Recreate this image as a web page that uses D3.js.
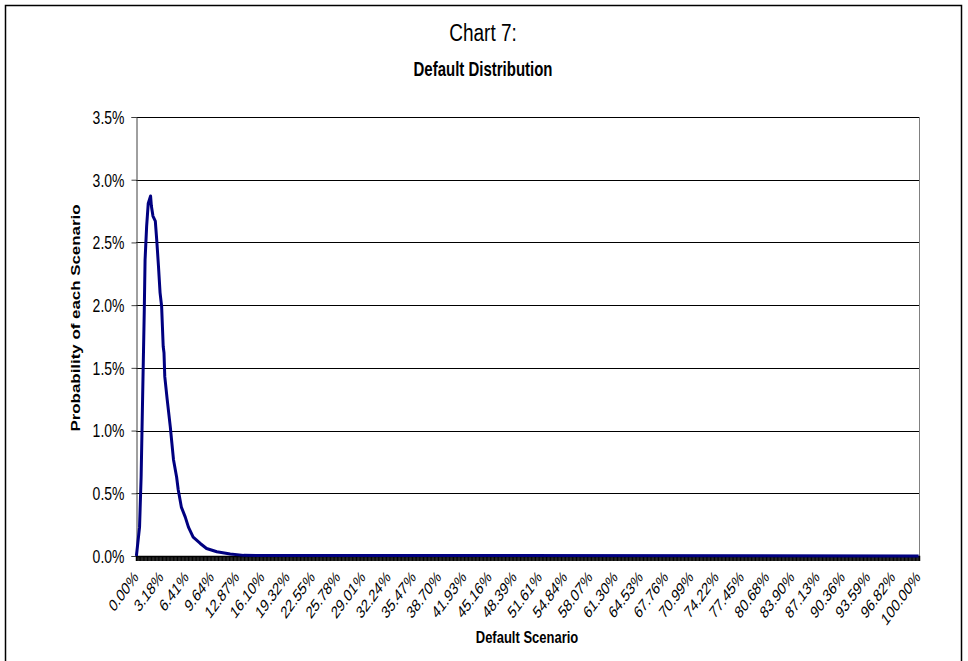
<!DOCTYPE html>
<html><head><meta charset="utf-8">
<script src="https://cdn.jsdelivr.net/npm/d3@7/dist/d3.min.js"></script>
<style>
body{margin:0;background:#fff}
svg{display:block}
text{font-family:"Liberation Sans",Arial,Helvetica,sans-serif;fill:#000}
</style>
</head><body>
<svg id="chart" width="968" height="661"></svg>
<script>
// ---- data ----
const scenarioCount = 993;          // number of default scenarios (categories)
const labelEvery = 32;              // one tick label every 32 scenarios
const tickLabels = ["0.00%","3.18%","6.41%","9.64%","12.87%","16.10%","19.32%","22.55%",
  "25.78%","29.01%","32.24%","35.47%","38.70%","41.93%","45.16%","48.39%","51.61%",
  "54.84%","58.07%","61.30%","64.53%","67.76%","70.99%","74.22%","77.45%","80.68%",
  "83.90%","87.13%","90.36%","93.59%","96.82%","100.00%"];
// scenario index of points
const curveIndex = [0,4,6,8,10,11,13,15,18,19,21,24,26,28,30,32,33,34,35,36,39,43,45,47,
  51,53,57,62,66,72,81,89,102,119,136,992];
// probability of each scenario (%)
const curveProb = [0,0.23,0.63,1.30,1.96,2.36,2.63,2.81,2.87,2.79,2.71,2.67,2.50,2.31,2.10,
  1.99,1.83,1.67,1.62,1.43,1.25,1.03,0.90,0.77,0.63,0.53,0.39,0.31,0.23,0.15,0.10,0.06,
  0.034,0.016,0.005,0];
const yTicks = [0,0.5,1.0,1.5,2.0,2.5,3.0,3.5];
const yTickLabels = ["0.0%","0.5%","1.0%","1.5%","2.0%","2.5%","3.0%","3.5%"];

// ---- layout ----
const svg = d3.select("#chart");
const L = 136, R = 919, T = 117, B = 556;
const SY = 1.3; // vertical text stretch of the original

const x = d3.scaleBand().domain(d3.range(scenarioCount)).range([L, R]).padding(0);
const y = d3.scaleLinear().domain([0, 3.5]).range([B, T]);
const cx = i => x(i) + x.bandwidth() / 2;

// outer frame
svg.append("rect").attr("x", 5.5).attr("y", 5.5).attr("width", 956).attr("height", 680)
  .attr("fill", "none").attr("stroke", "#000").attr("stroke-width", 1.5);

// gridlines
svg.append("g").selectAll("line").data(yTicks.slice(1)).join("line")
  .attr("x1", L).attr("x2", R)
  .attr("y1", d => Math.round(y(d)) + 0.5).attr("y2", d => Math.round(y(d)) + 0.5)
  .attr("stroke", "#000").attr("stroke-width", 1);

// right border of plot
svg.append("line").attr("x1", R + 0.5).attr("x2", R + 0.5).attr("y1", T).attr("y2", B)
  .attr("stroke", "#808080").attr("stroke-width", 1);

// y axis
const yAxis = d3.axisLeft(y).tickValues(yTicks).tickSize(5).tickFormat("");
const gy = svg.append("g").attr("transform", `translate(${L + 0.5},0)`).call(yAxis);
gy.select(".domain").attr("stroke", "#404040");
gy.selectAll(".tick line").attr("stroke", "#404040");
gy.selectAll(".tick").each(function(d, i) {
  d3.select(this).append("g").attr("transform", `translate(-12,0) scale(1,${SY})`)
    .append("text").attr("text-anchor", "end").attr("dy", "0.35em")
    .style("font-size", "14px").text(yTickLabels[i]);
});

// x axis with tick marks for every scenario
const xAxis = d3.axisBottom(x).tickValues(d3.range(scenarioCount)).tickSize(5).tickFormat("");
const gx = svg.append("g").attr("transform", `translate(0,${B})`).call(xAxis);
gx.select(".domain").attr("stroke", "#000").attr("stroke-width", 1.5);
gx.selectAll(".tick line").attr("stroke", "#000").attr("stroke-width", 1);

// x tick labels
svg.append("g").selectAll("g").data(tickLabels).join("g")
  .attr("transform", (d, j) => `translate(${cx(j * labelEvery) - 0.5},${B + 18}) scale(1,1.38) rotate(-45)`)
  .append("text").attr("text-anchor", "end").attr("dy", "0.35em")
  .style("font-size", "12.5px").text(d => d);

// curve
const line = d3.line().x(d => cx(d[0])).y(d => y(d[1])).curve(d3.curveLinear);
svg.append("path").datum(curveIndex.map((c, i) => [c, curveProb[i]]))
  .attr("d", line).attr("fill", "none").attr("stroke", "#000080")
  .attr("stroke-width", 3).attr("stroke-linejoin", "round");

// titles
function stretchedText(xp, yp, txt, size, weight) {
  const g = svg.append("g").attr("transform", `translate(${xp},${yp}) scale(1,${SY})`);
  g.append("text").attr("text-anchor", "middle").style("font-size", size + "px")
    .style("font-weight", weight).text(txt);
}
stretchedText(483, 41, "Chart 7:", 19, "normal");
stretchedText(483, 76, "Default Distribution", 15, "bold");
stretchedText(527, 643, "Default Scenario", 13, "bold");
// rotated y title (stretch along text direction)
svg.append("g").attr("transform", `translate(80,318) rotate(-90) scale(${SY},1)`)
  .append("text").attr("text-anchor", "middle").style("font-size", "13px")
  .style("font-weight", "bold").text("Probability of each Scenario");
</script>
</body></html>
